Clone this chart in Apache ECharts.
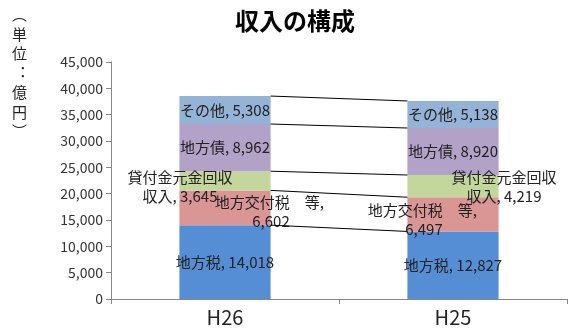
<!DOCTYPE html>
<html>
<head>
<meta charset="utf-8">
<script src="https://cdn.jsdelivr.net/npm/echarts@6/dist/echarts.min.js"></script>
<style>
  html, body { margin: 0; padding: 0; background: #fff; }
  #chart { width: 569px; height: 331px; }
</style>
</head>
<body>
<div id="chart"></div>
<script>
// 年度
const categories = ['H26', 'H25'];
// 項目（下から順）
const itemNames = ['地方税', '地方交付税　等', '貸付金元金回収\n収入', '地方債', 'その他'];
const chiho = [14018, 12827];
const koufu = [6602, 6497];
const kashitsuke = [3645, 4219];
const chihosai = [8962, 8920];
const sonota = [5308, 5138];
const yTicks = [0, 5000, 10000, 15000, 20000, 25000, 30000, 35000, 40000, 45000];

const colors = ['#558ED5', '#D99694', '#C3D69B', '#B3A2C7', '#95B3D7'];
const font = '"Noto Sans CJK JP", "Noto Sans", sans-serif';
const fmt = v => v.toLocaleString('en-US');

const seriesValues = [chiho, koufu, kashitsuke, chihosai, sonota];

// ラベルの位置ずらし（H26, H25）
const labelOffsets = [
  [[0, 0], [0, 0]],
  [[46, 4], [-29, 5]],
  [[-45, 6], [51, 1]],
  [[0, 0], [0, 0]],
  [[0, 0], [0, 0]]
];

const chart = echarts.init(document.getElementById('chart'));

const barSeries = seriesValues.map((vals, i) => ({
  name: itemNames[i],
  type: 'bar',
  stack: 'total',
  barWidth: '40%',
  itemStyle: { color: colors[i] },
  data: vals.map((v, j) => ({
    value: v,
    label: {
      show: true,
      position: 'inside',
      offset: labelOffsets[i][j],
      align: 'center',
      fontFamily: font,
      fontSize: 15,
      lineHeight: 19,
      color: '#222',
      formatter: () => itemNames[i] + ', ' + (i === 1 ? '\n' : '') + fmt(v)
    }
  })),
  z: 2
}));

// 区分線（各積み上げの上端をつなぐ）
const levels = [];
for (let i = 0; i < seriesValues.length; i++) {
  let a = 0, b = 0;
  for (let k = 0; k <= i; k++) { a += seriesValues[k][0]; b += seriesValues[k][1]; }
  levels.push([0, a, 1, b]);
}

const lineSeries = {
  type: 'custom',
  encode: { x: [0, 2], y: [1, 3] },
  data: levels,
  z: 3,
  silent: true,
  renderItem: (params, api) => {
    const p1 = api.coord([api.value(0), api.value(1)]);
    const p2 = api.coord([api.value(2), api.value(3)]);
    const half = api.size([1, 0])[0] * 0.4 / 2;
    return {
      type: 'line',
      shape: { x1: p1[0] + half, y1: p1[1], x2: p2[0] - half, y2: p2[1] },
      style: { stroke: '#000', lineWidth: 1 }
    };
  }
};

chart.setOption({
  animation: false,
  title: {
    text: '収入の構成',
    left: 290,
    textAlign: 'center',
    top: 4,
    textStyle: { fontFamily: font, fontSize: 24, fontWeight: 'bold', color: '#000' }
  },
  graphic: [{
    type: 'text',
    left: 12,
    top: 5,
    style: {
      text: '︵\n単\n位\n︓\n億\n円\n︶',
      fontFamily: font,
      fontSize: 15,
      lineHeight: 19.5,
      fill: '#222',
      align: 'center'
    }
  }],
  grid: { left: 111, right: 2, top: 62, bottom: 32, containLabel: false },
  xAxis: {
    type: 'category',
    data: categories,
    axisLine: { lineStyle: { color: '#888' } },
    axisTick: { show: true, length: 5, lineStyle: { color: '#888' } },
    axisLabel: { fontFamily: font, fontSize: 20, color: '#222', margin: 8 }
  },
  yAxis: {
    type: 'value',
    min: 0,
    max: 45000,
    interval: 5000,
    splitLine: { show: false },
    axisLine: { show: true, lineStyle: { color: '#888' } },
    axisTick: { show: true, length: 5, lineStyle: { color: '#888' } },
    axisLabel: {
      fontFamily: font,
      fontSize: 14,
      color: '#333',
      margin: 8,
      formatter: v => yTicks.includes(v) ? fmt(v) : ''
    }
  },
  series: [...barSeries, lineSeries]
});
</script>
</body>
</html>
